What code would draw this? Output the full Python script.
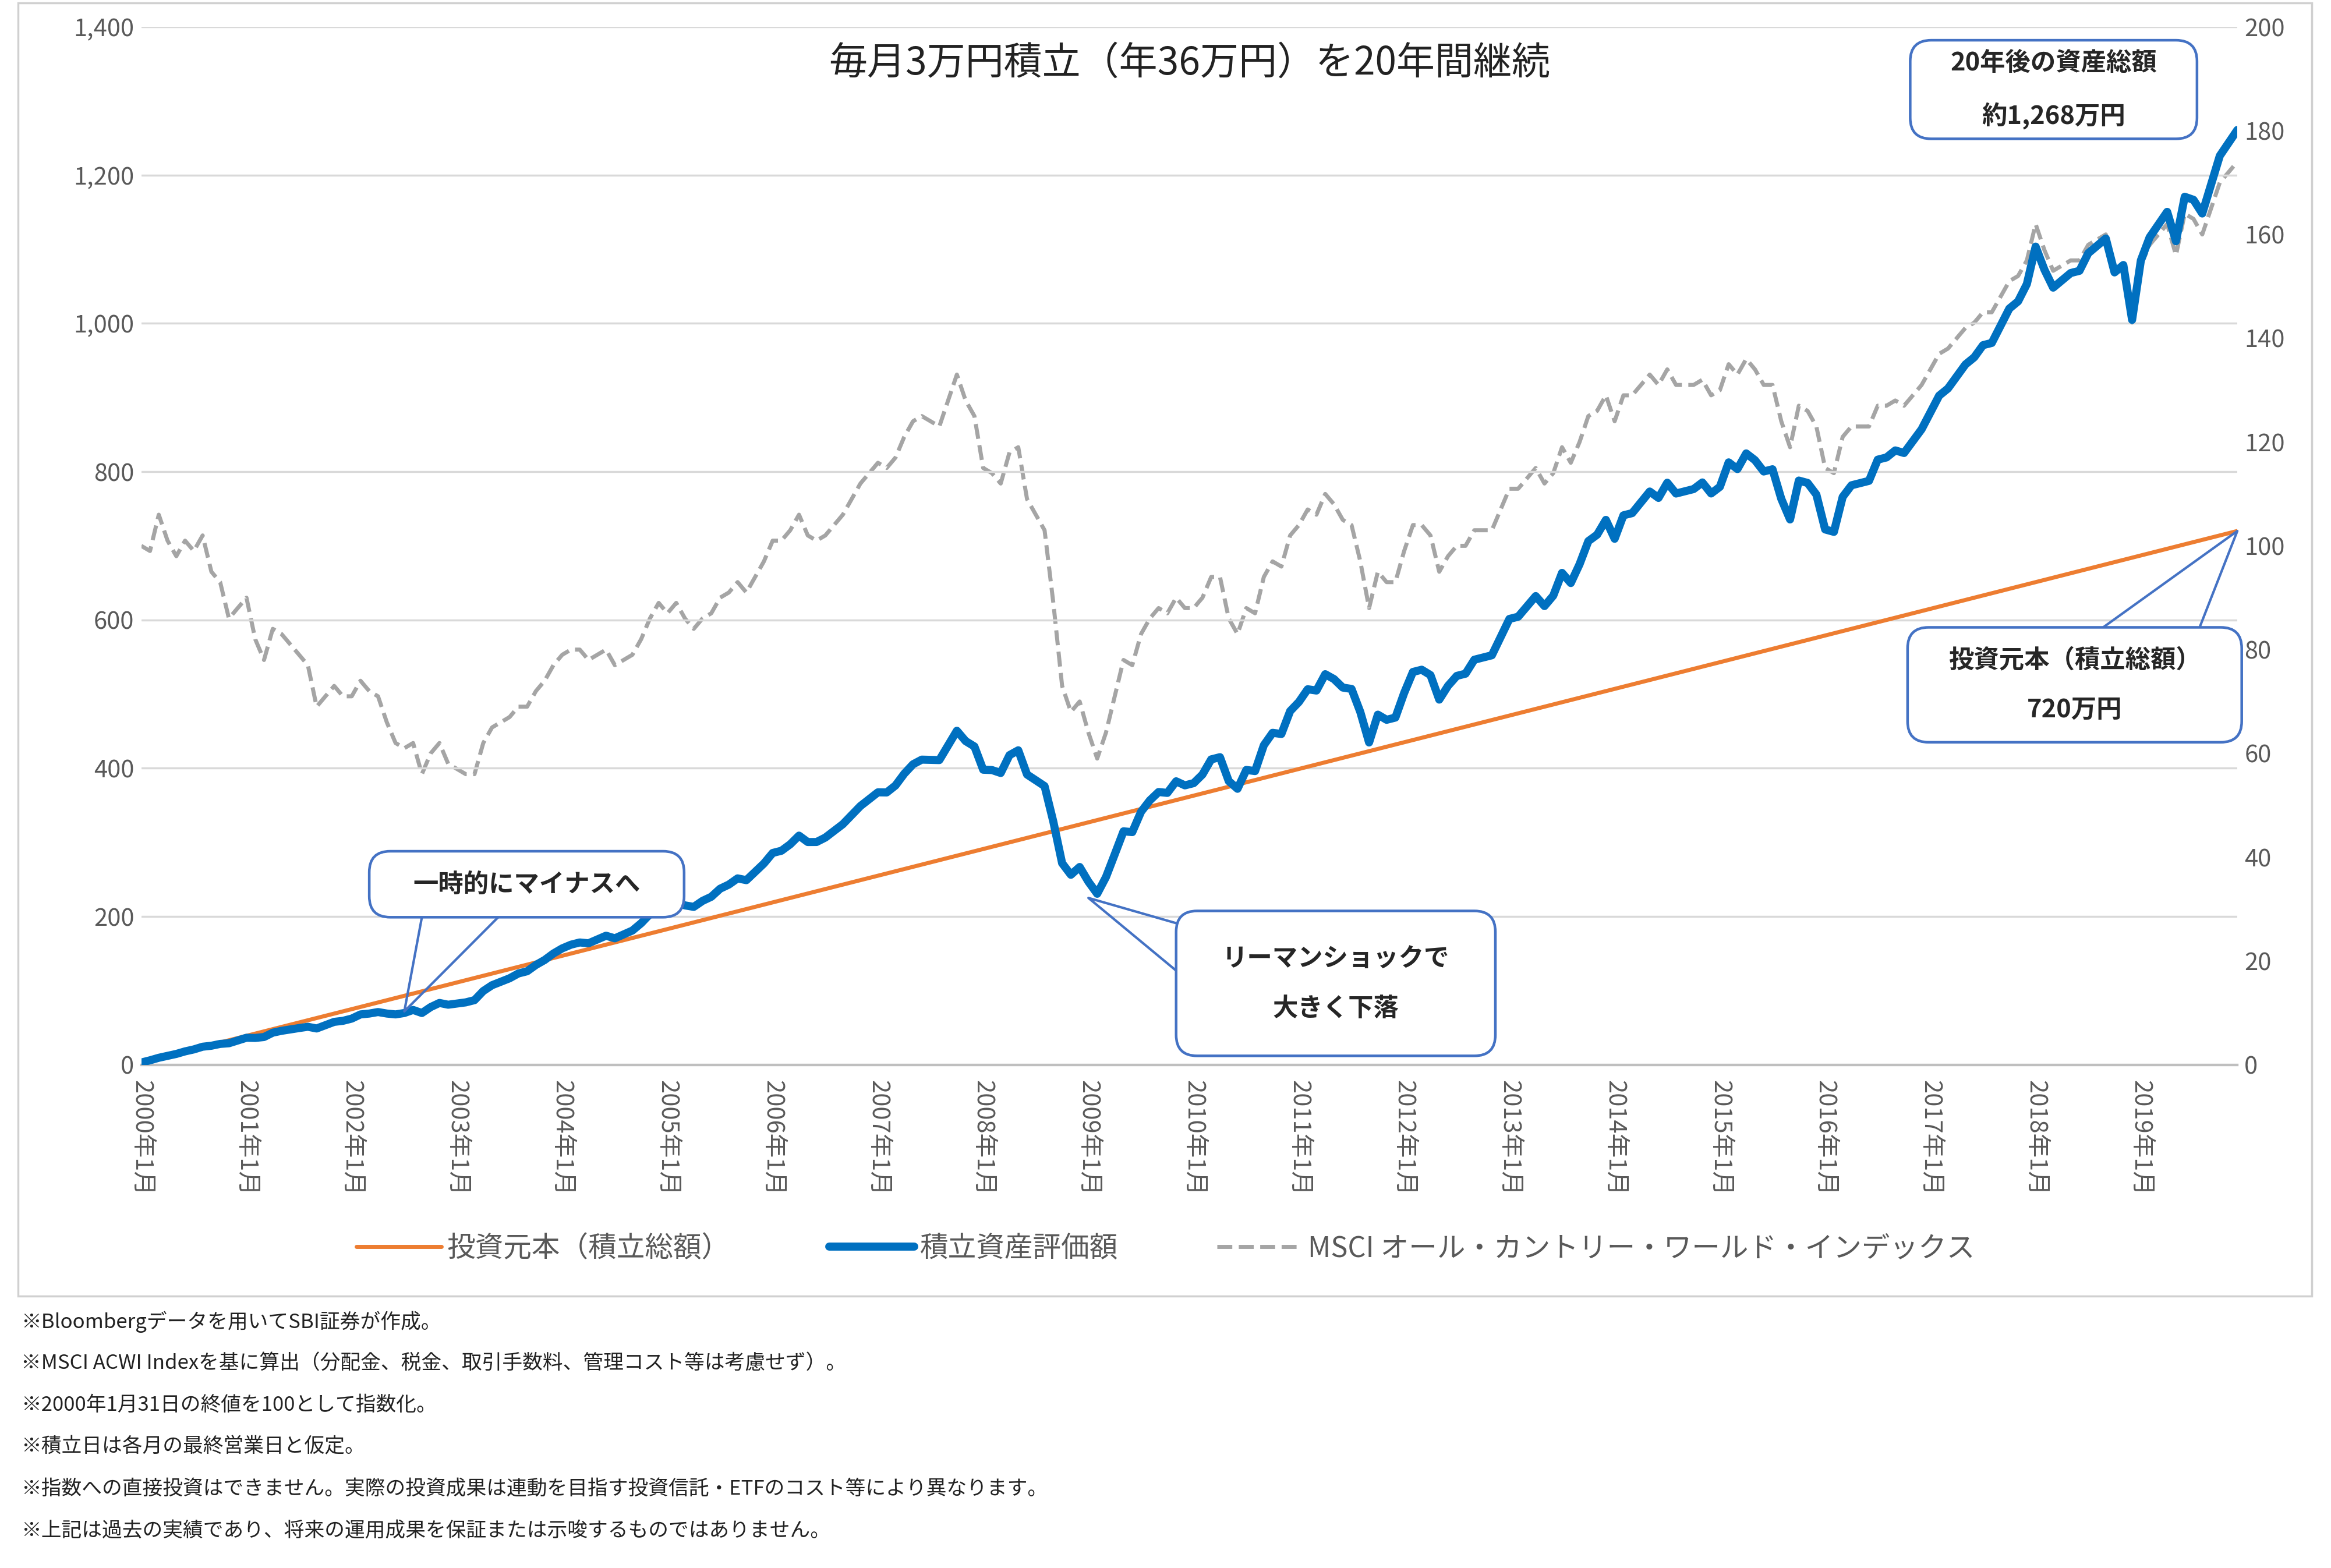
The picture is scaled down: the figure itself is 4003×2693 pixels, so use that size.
import numpy as np, pandas as pd, matplotlib
matplotlib.use("Agg")
import matplotlib.pyplot as plt, seaborn as sns
from matplotlib.patches import FancyBboxPatch, Rectangle

sns.set_theme(style="white")
plt.rcParams['font.family'] = ['Noto Sans CJK JP', 'DejaVu Sans']

years = list(range(2000, 2020))
msci = [100,99,106,101,98,101,99,102,95,93,86,88,
        90,82,78,84,83,81,79,77,69,71,73,71,
        71,74,72,71,66,62,61,62,56,60,62,58,
        57,56,56,62,65,66,67,69,69,72,74,77,
        79,80,80,78,79,80,77,78,79,82,86,89,
        87,89,86,84,86,87,90,91,93,91,94,97,
        101,101,103,106,102,101,102,104,106,109,112,114,
        116,115,117,121,124,125,124,123,128,133,128,125,
        115,114,112,118,119,109,106,103,89,73,68,70,
        64,59,64,71,78,77,83,86,88,87,90,88,
        88,90,94,94,86,83,88,87,94,97,96,102,
        104,107,106,110,108,105,104,97,88,95,93,93,
        99,104,104,102,95,98,100,100,103,103,103,107,
        111,111,113,115,112,114,119,116,120,125,126,129,
        124,129,129,131,133,131,134,131,131,131,132,129,
        130,135,133,136,134,131,131,124,119,127,126,123,
        115,114,121,123,123,123,127,127,128,127,129,131,
        134,137,138,140,142,143,145,145,148,151,152,155,
        162,157,153,154,155,155,158,159,160,153,154,143,
        154,158,160,162,156,164,163,160,165,170,172,174]
monthly = 3.0  # 万円

idx = np.array(msci, float)
principal = monthly * np.arange(1, len(idx) + 1)
units = np.cumsum(monthly / idx)
value = units * idx
df = pd.DataFrame({"m": np.arange(len(idx)), "principal": principal, "value": value, "msci": idx})

W, H = 16.012, 10.772
fig = plt.figure(figsize=(W, H), dpi=250)
fig.patches.append(Rectangle((12/1568, 1-868/1050), 1543/1568, 866/1050, transform=fig.transFigure,
                             fill=False, edgecolor="#D0D0D0", lw=1))
ax = fig.add_axes([95/1568, 1-713/1050, 1410/1568, 695/1050])
ax2 = ax.twinx()
sns.lineplot(data=df, x="m", y="principal", ax=ax, color="#ED7D31", lw=2, label="投資元本（積立総額）", legend=False, zorder=3)
sns.lineplot(data=df, x="m", y="value", ax=ax, color="#0070C0", lw=4, label="積立資産評価額", legend=False, zorder=4)
sns.lineplot(data=df, x="m", y="msci", ax=ax2, color="#A5A5A5", lw=2, ls="--", label="MSCI オール・カントリー・ワールド・インデックス", legend=False)
ax.set_zorder(ax2.get_zorder() + 1); ax.patch.set_visible(False)

ax.set_ylim(0, 1400); ax2.set_ylim(0, 200)
ax.set_xlim(0, 239)
ax.set_yticks(range(0, 1401, 200)); ax.set_yticklabels([f"{v:,}" for v in range(0, 1401, 200)])
ax2.set_yticks(range(0, 201, 20))
ax.set_xticks([12*i for i in range(20)])
ax.set_xticklabels([f"{y}年1月" for y in years], rotation=-90, fontsize=12, color="#595959")
for a in (ax, ax2):
    a.tick_params(axis="y", labelsize=12, colors="#595959", length=0)
    a.set_xlabel(""); a.set_ylabel("")
    for s in a.spines.values(): s.set_visible(False)
ax.spines["bottom"].set_visible(True); ax.spines["bottom"].set_color("#BFBFBF")
ax.tick_params(axis="x", length=4, color="#BFBFBF")
ax2.grid(False)
for v in range(200, 1401, 200):
    ax.axhline(v, color="#D9D9D9", lw=1, zorder=0)

ax.text(0.5, 0.965, "毎月3万円積立（年36万円）を20年間継続", transform=ax.transAxes, ha="center", va="center", fontsize=19, color="#222222")

def tofig(x, y):
    return fig.transFigure.inverted().transform(ax.transData.transform((x, y)))

def box(x0, x1, y0, y1, txt, fs=12.5):
    (fx0, fy0), (fx1, fy1) = tofig(x0, y1), tofig(x1, y0)
    p = FancyBboxPatch((fx0, fy0), fx1-fx0, fy1-fy0, boxstyle="round,pad=0,rounding_size=0.009",
                       mutation_aspect=W/H, facecolor="white", edgecolor="#4472C4", lw=1.3,
                       transform=fig.transFigure, zorder=10)
    fig.patches.append(p)
    fig.text((fx0+fx1)/2, (fy0+fy1)/2, txt, ha="center", va="center", fontsize=fs, fontweight="bold",
             linespacing=2.2, zorder=11)

def pointer(a, b, tip):
    ax.plot([a[0], tip[0], b[0]], [a[1], tip[1], b[1]], color="#4472C4", lw=1.2, zorder=9, clip_on=False)

pointer((32, 199), (40.7, 199), (30, 72))
box(26, 61.9, 288, 199, "一時的にマイナスへ")
pointer((118, 191), (118, 127), (108, 225))
box(118, 154.4, 207.5, 12, "リーマンショックで\n大きく下落")
box(201.7, 234.4, 1382, 1249, "20年後の資産総額\n約1,268万円")
pointer((223.7, 590), (234.7, 590), (239, 720))
box(201.4, 239.5, 590, 435, "投資元本（積立総額）\n720万円")

h1, l1 = ax.get_legend_handles_labels(); h2, l2 = ax2.get_legend_handles_labels()
fig.legend(h1+h2, l1+l2, loc="center", bbox_to_anchor=(0.5, 1-836/1050), ncol=3, frameon=False,
           fontsize=14, labelcolor="#595959", columnspacing=3.5, handlelength=3, handletextpad=0.2)

notes = ["※Bloombergデータを用いてSBI証券が作成。",
         "※MSCI ACWI Indexを基に算出（分配金、税金、取引手数料、管理コスト等は考慮せず）。",
         "※2000年1月31日の終値を100として指数化。",
         "※積立日は各月の最終営業日と仮定。",
         "※指数への直接投資はできません。実際の投資成果は連動を目指す投資信託・ETFのコスト等により異なります。",
         "※上記は過去の実績であり、将来の運用成果を保証または示唆するものではありません。"]
for i, n in enumerate(notes):
    fig.text(14/1568, 1-(885+28*i)/1050, n, fontsize=10, va="center", color="#222222")

fig.savefig("out.png", dpi=250)
